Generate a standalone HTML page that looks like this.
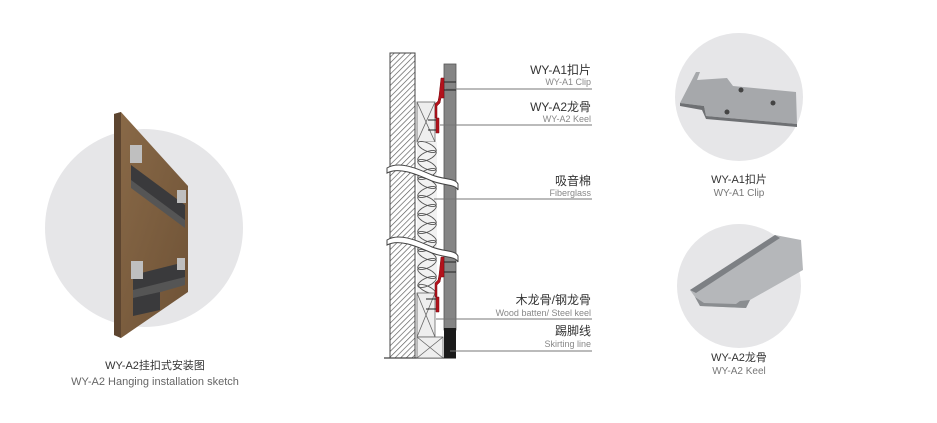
<!DOCTYPE html>
<html><head><meta charset="utf-8"><style>
html,body{margin:0;padding:0;background:#fff;}
svg{display:block;}
text{font-family:"Liberation Sans","Noto Sans CJK SC",sans-serif;}
.cn{font-size:12px;fill:#333;}
.en{font-size:9px;fill:#888;}
</style></head><body>
<svg width="937" height="423" viewBox="0 0 937 423" xmlns="http://www.w3.org/2000/svg">
<defs>
<pattern id="h" width="4" height="4" patternUnits="userSpaceOnUse" patternTransform="rotate(45)">
<rect width="4" height="4" fill="#fff"/><line x1="0" y1="0" x2="0" y2="4" stroke="#555" stroke-width="1.3"/>
</pattern>
<linearGradient id="wood" x1="0" x2="1" y1="0" y2="1">
<stop offset="0" stop-color="#8a6a48"/><stop offset="1" stop-color="#6e5236"/>
</linearGradient>
</defs>
<!-- Left illustration -->
<circle cx="144" cy="228" r="99" fill="#e6e6e8"/>
<polygon points="114,114 121,112 188,186 188,292 121,338 114,335" fill="url(#wood)"/>
<polygon points="114,114 121,112 121,338 114,335" fill="#5d4530"/>
<polygon points="131,165 185,205 185,222 131,182" fill="#3a3a3c"/>
<polygon points="131,180 185,220 185,228 131,188" fill="#555"/>
<rect x="130" y="145" width="12" height="18" fill="#bfbfbf"/>
<rect x="177" y="190" width="9" height="13" fill="#bfbfbf"/>
<polygon points="133,275 185,262 185,280 133,293" fill="#3a3a3c"/>
<polygon points="133,290 185,277 185,285 133,300" fill="#555"/>
<polygon points="133,298 160,292 160,310 133,316" fill="#3a3a3c"/>
<rect x="131" y="261" width="12" height="18" fill="#bfbfbf"/>
<rect x="177" y="258" width="8" height="12" fill="#bfbfbf"/>
<text x="155" y="369" text-anchor="middle" class="cn" style="font-size:11px">WY-A2挂扣式安装图</text>
<text x="155" y="385" text-anchor="middle" style="font-size:11px;fill:#666">WY-A2 Hanging installation sketch</text>

<!-- Section drawing -->
<rect x="390" y="53" width="25" height="305" fill="url(#h)" stroke="#444" stroke-width="1"/>
<line x1="384" y1="358" x2="456" y2="358" stroke="#444" stroke-width="1.2"/>
<rect x="417" y="102" width="18" height="40" fill="#eee" stroke="#666" stroke-width="0.8"/>
<path d="M417,102 L435,142 M435,102 L417,142" stroke="#666" stroke-width="0.8"/>
<rect x="417" y="142" width="20" height="151" fill="#f2f2f2"/>
<g fill="none" stroke="#555" stroke-width="0.9">
<ellipse cx="427" cy="147" rx="10" ry="4" transform="rotate(25 427 147)"/>
<ellipse cx="427" cy="156" rx="10" ry="4" transform="rotate(-25 427 156)"/>
<ellipse cx="427" cy="165" rx="10" ry="4" transform="rotate(25 427 165)"/>
<ellipse cx="427" cy="174" rx="10" ry="4" transform="rotate(-25 427 174)"/>
<ellipse cx="427" cy="183" rx="10" ry="4" transform="rotate(25 427 183)"/>
<ellipse cx="427" cy="192" rx="10" ry="4" transform="rotate(-25 427 192)"/>
<ellipse cx="427" cy="201" rx="10" ry="4" transform="rotate(25 427 201)"/>
<ellipse cx="427" cy="210" rx="10" ry="4" transform="rotate(-25 427 210)"/>
<ellipse cx="427" cy="219" rx="10" ry="4" transform="rotate(25 427 219)"/>
<ellipse cx="427" cy="228" rx="10" ry="4" transform="rotate(-25 427 228)"/>
<ellipse cx="427" cy="237" rx="10" ry="4" transform="rotate(25 427 237)"/>
<ellipse cx="427" cy="246" rx="10" ry="4" transform="rotate(-25 427 246)"/>
<ellipse cx="427" cy="255" rx="10" ry="4" transform="rotate(25 427 255)"/>
<ellipse cx="427" cy="264" rx="10" ry="4" transform="rotate(-25 427 264)"/>
<ellipse cx="427" cy="273" rx="10" ry="4" transform="rotate(25 427 273)"/>
<ellipse cx="427" cy="282" rx="10" ry="4" transform="rotate(-25 427 282)"/>
<ellipse cx="427" cy="289" rx="9" ry="3" transform="rotate(25 427 289)"/>
</g>
<rect x="417" y="293" width="18" height="44" fill="#eee" stroke="#666" stroke-width="0.8"/>
<path d="M417,293 L435,337 M435,293 L417,337" stroke="#666" stroke-width="0.8"/>
<rect x="417" y="337" width="26" height="21" fill="#eee" stroke="#666" stroke-width="0.8"/>
<path d="M417,337 L443,358 M443,337 L417,358" stroke="#666" stroke-width="0.8"/>
<rect x="444" y="64" width="12" height="266" fill="#858585" stroke="#555" stroke-width="0.8"/>
<rect x="444" y="328" width="12" height="30" fill="#1a1a1a"/>
<g fill="#b3121c" stroke="#7a0a10" stroke-width="0.5">
<path d="M441,78 h3 v20 h-3 l-1,5 l-3,3 v12 h-2 v-14 l3,-3 l1,-5z"/>
<path d="M436,118 h3 v15 h-3z"/>
<path d="M441,257 h3 v20 h-3 l-1,5 l-3,3 v12 h-2 v-14 l3,-3 l1,-5z"/>
<path d="M436,297 h3 v15 h-3z"/>
</g>
<g stroke="#222" stroke-width="1">
<line x1="444" y1="82" x2="456" y2="82"/><line x1="444" y1="90" x2="456" y2="90"/>
<line x1="428" y1="120" x2="436" y2="120"/><line x1="428" y1="130" x2="436" y2="130"/>
<line x1="444" y1="262" x2="456" y2="262"/><line x1="444" y1="272" x2="456" y2="272"/>
<line x1="426" y1="299" x2="436" y2="299"/><line x1="426" y1="309" x2="436" y2="309"/>
</g>
<path d="M387,168 C400,160 420,170 432,175 C445,180 455,178 458,184 L458,190 C455,184 445,186 432,181 C420,176 400,166 387,173Z" fill="#fff" stroke="#444" stroke-width="1"/>
<path d="M387,240 C400,232 420,242 432,247 C445,252 455,250 458,256 L458,262 C455,256 445,258 432,253 C420,248 400,238 387,245Z" fill="#fff" stroke="#444" stroke-width="1"/>
<g stroke="#777" stroke-width="0.9">
<line x1="446" y1="89" x2="592" y2="89"/>
<line x1="440" y1="125" x2="592" y2="125"/>
<line x1="434" y1="199" x2="592" y2="199"/>
<line x1="436" y1="319" x2="592" y2="319"/>
<line x1="450" y1="351" x2="592" y2="351"/>
</g>
<g text-anchor="end">
<text x="591" y="74" class="cn">WY-A1扣片</text><text x="591" y="85" class="en">WY-A1 Clip</text>
<text x="591" y="111" class="cn">WY-A2龙骨</text><text x="591" y="122" class="en">WY-A2 Keel</text>
<text x="591" y="185" class="cn">吸音棉</text><text x="591" y="196" class="en">Fiberglass</text>
<text x="591" y="304" class="cn">木龙骨/钢龙骨</text><text x="591" y="316" class="en">Wood batten/ Steel keel</text>
<text x="591" y="335" class="cn">踢脚线</text><text x="591" y="347" class="en">Skirting line</text>
</g>

<!-- Right circles -->
<circle cx="739" cy="97" r="64" fill="#e6e6e8"/>
<polygon points="680,103 696,72 700,72 697,80 727,78 733,86 796,92 797,124 706,116 704,106" fill="#a6a8ab"/>
<polygon points="680,103 704,106 706,116 797,124 797,127 706,119 702,110 680,106" fill="#6e7073"/>
<circle cx="741" cy="90" r="2.5" fill="#444"/><circle cx="773" cy="103" r="2.5" fill="#444"/><circle cx="727" cy="112" r="2.5" fill="#444"/>
<text x="739" y="183" text-anchor="middle" class="cn" style="font-size:11px">WY-A1扣片</text>
<text x="739" y="196" text-anchor="middle" style="font-size:10px;fill:#777">WY-A1 Clip</text>
<circle cx="739" cy="286" r="62" fill="#e6e6e8"/>
<polygon points="690,290 775,235 801,240 803,270 750,300 746,308 700,306 695,297" fill="#b5b7ba"/>
<polygon points="690,290 775,235 780,238 696,293" fill="#7d8084"/>
<polygon points="695,297 700,306 746,308 750,300 740,301 736,304 704,303" fill="#8a8d90"/>
<text x="739" y="361" text-anchor="middle" class="cn" style="font-size:11px">WY-A2龙骨</text>
<text x="739" y="374" text-anchor="middle" style="font-size:10px;fill:#777">WY-A2 Keel</text>
</svg>
</body></html>
